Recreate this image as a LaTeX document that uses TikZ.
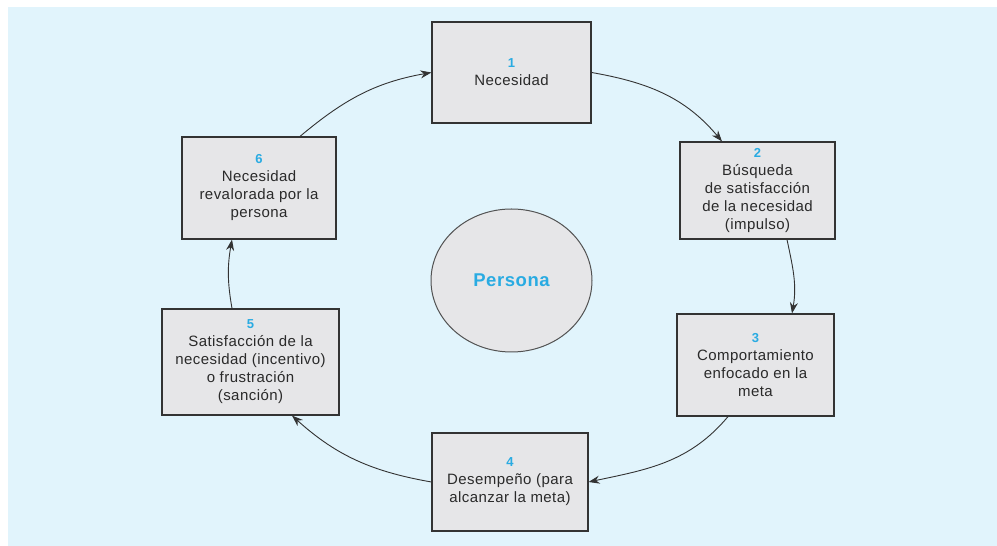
\documentclass[tikz,border=0pt]{standalone}
\usepackage{fontspec}
\newfontfamily\boxfont[LetterSpace=3]{Liberation Sans}
\usetikzlibrary{arrows.meta,shapes.geometric}
\definecolor{bg}{HTML}{E1F4FC}
\definecolor{boxfill}{HTML}{E6E6E8}
\definecolor{edge}{HTML}{333333}
\definecolor{txt}{HTML}{2A2A2A}
\definecolor{num}{HTML}{29ABE2}
\newcommand\stepnum[1]{{\fontsize{13}{18}\selectfont\bfseries\color{num}#1}}
\begin{document}
\begin{tikzpicture}[x=1pt,y=1pt,
  stepbox/.style={draw=edge, line width=1.2pt, fill=boxfill, inner sep=0pt,
    align=center, text=txt, font=\boxfont\fontsize{15}{18}\selectfont},
  conn/.style={draw=edge, line width=0.9pt, -{Stealth[length=11pt,width=8pt]}}]
\useasboundingbox (0,0) rectangle (997,546);
\fill[bg] (8,0) rectangle (997,539);
\node[stepbox, minimum width=159pt, minimum height=101pt] (b1) at (511.5,473.5) {\stepnum{1}\\Necesidad};
\node[stepbox, minimum width=155pt, minimum height=97pt] (b2) at (757.5,355.5) {\stepnum{2}\\Búsqueda\\de satisfacción\\de la necesidad\\(impulso)};
\node[stepbox, minimum width=157pt, minimum height=102pt] (b3) at (755.5,181) {\stepnum{3}\\Comportamiento\\enfocado en la\\meta};
\node[stepbox, minimum width=156pt, minimum height=98pt] (b4) at (510,64) {\stepnum{4}\\Desempeño (para\\alcanzar la meta)};
\node[stepbox, minimum width=177pt, minimum height=106pt] (b5) at (250.5,184) {\stepnum{5}\\Satisfacción de la\\necesidad (incentivo)\\o frustración\\(sanción)};
\node[stepbox, minimum width=154pt, minimum height=102pt] (b6) at (259,358) {\stepnum{6}\\Necesidad\\revalorada por la\\persona};
\node[ellipse, draw=edge!85, line width=1pt, fill=boxfill, minimum width=161pt, minimum height=143pt, inner sep=0pt,
  font=\boxfont\fontsize{18.5}{20}\selectfont\bfseries, text=num] (p) at (511.5,265.5) {Persona};
\draw[conn] (b6.north -| 300,0) to[out=40,in=190] (b1.west);
\draw[conn] (b1.east) to[out=-10,in=130] (b2.north -| 722,0);
\draw[conn] (b2.south -| 787,0) to[out=-78,in=80] (b3.north -| 792,0);
\draw[conn] (b3.south -| 728,0) to[out=-130,in=12] (b4.east);
\draw[conn] (b4.west) to[out=170,in=-42] (b5.south -| 292,0);
\draw[conn] (b5.north -| 232,0) to[out=100,in=-100] (b6.south -| 232,0);
\end{tikzpicture}
\end{document}
